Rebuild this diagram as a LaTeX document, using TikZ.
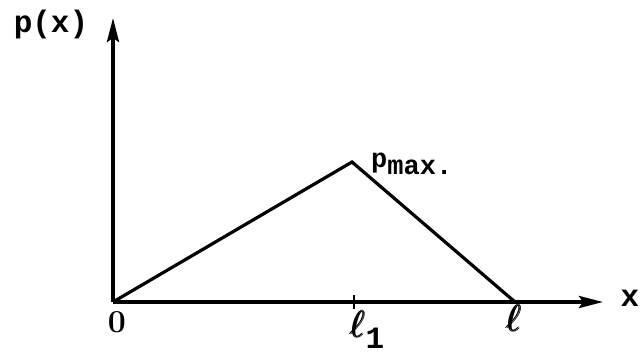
\documentclass[tikz,border=0pt]{standalone}
\usepackage{amsmath,graphicx}
\usepackage{fontspec}
\setmonofont{Liberation Mono}
\usetikzlibrary{arrows.meta}
\begin{document}
\begin{tikzpicture}[x=1pt,y=-1pt,
  axis/.style={line width=3.6pt,-{Stealth[length=24pt,width=12pt,inset=4pt]}},
  curve/.style={line width=3.2pt,line join=miter},
  lbl/.style={font=\ttfamily\bfseries\fontsize{31}{33}\selectfont,inner sep=0pt}]
\useasboundingbox (0,0) rectangle (642,361);
\coordinate (o) at (113,302);
\coordinate (ytop) at (113,18);
\coordinate (xend) at (603,302);
\coordinate (pk) at (352,162);
\coordinate (l) at (515,302);
\coordinate (t1) at (354,295);
\coordinate (t2) at (354,309);
\draw[axis] (o) -- (ytop);
\draw[axis] (o) -- (xend);
\draw[curve] (o) -- (pk) -- (l);
\draw[line width=2pt] (t1) -- (t2);
\node[lbl] (py) at (51,24) {p(x)};
\node[lbl,font=\rmfamily\bfseries\fontsize{32}{34}\selectfont] (zero) at (117,322) {0};
\node[lbl,anchor=west] (l1) at (350,330) {\scalebox{1.5}{$\pmb{\ell}$}\raisebox{-11pt}{1}};
\node[lbl] (ll) at (514,318) {\scalebox{1.5}{$\pmb{\ell}$}};
\node[lbl] (xx) at (630,298) {x};
\node[lbl,anchor=west,font=\ttfamily\bfseries\fontsize{27}{29}\selectfont] (pm) at (371,164) {p\raisebox{-7pt}{max.}};
\end{tikzpicture}
\end{document}
